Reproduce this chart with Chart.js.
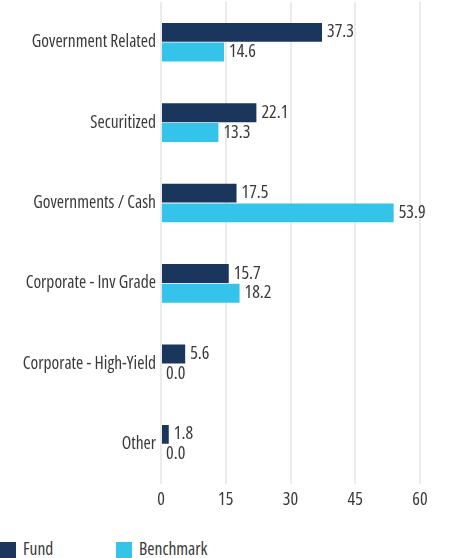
<!DOCTYPE html>
<html>
<head>
<meta charset="utf-8">
<script src="https://cdn.jsdelivr.net/npm/chart.js@4.4.1/dist/chart.umd.min.js"></script>
<style>
  html, body { margin: 0; padding: 0; background: #fff; overflow: hidden; }
  #wrap { position: absolute; left: 0; top: 0; width: 450px; height: 516px; }
  #legend { position: absolute; left: 0; top: 542px; font-family: "Open Sans", sans-serif; font-stretch: condensed; font-size: 17.5px; color: #3a3a3a; }
  .item { position: absolute; top: 0; white-space: nowrap; }
  .box { position: absolute; top: 0; width: 16px; height: 16px; }
  .txt { position: absolute; left: 23px; top: -6px; }
</style>
</head>
<body>
<div id="wrap"><canvas id="chart"></canvas></div>
<div id="legend">
  <div class="item" style="left:0"><span class="box" style="background:#1b365d"></span><span class="txt">Fund</span></div>
  <div class="item" style="left:116px"><span class="box" style="background:#35c4e9"></span><span class="txt">Benchmark</span></div>
</div>
<script>
// Data
const categories = ['Government Related', 'Securitized', 'Governments / Cash', 'Corporate - Inv Grade', 'Corporate - High-Yield', 'Other'];
const fundValues = [37.3, 22.1, 17.5, 15.7, 5.6, 1.8];
const benchmarkValues = [14.6, 13.3, 53.9, 18.2, 0.0, 0.0];
const xTicks = [0, 15, 30, 45, 60];

const fontFamily = '"Open Sans", sans-serif';
// weight string goes into the font shorthand, so it can carry the stretch too
const fontWeight = 'condensed';
const textColor = '#3a3a3a';

// draws value labels at the end of each bar
const valueLabels = {
  id: 'valueLabels',
  afterDatasetsDraw(chart) {
    const ctx = chart.ctx;
    ctx.save();
    ctx.font = `${fontWeight} 18px ${fontFamily}`;
    ctx.fillStyle = textColor;
    ctx.textBaseline = 'middle';
    ctx.textAlign = 'left';
    chart.data.datasets.forEach((ds, i) => {
      chart.getDatasetMeta(i).data.forEach((bar, j) => {
        ctx.fillText(ds.data[j].toFixed(1), bar.x + 5, bar.y);
      });
    });
    ctx.restore();
  }
};

new Chart(document.getElementById('chart'), {
  type: 'bar',
  data: {
    labels: categories,
    datasets: [
      { label: 'Fund', data: fundValues, backgroundColor: '#1b365d', barPercentage: 0.96, categoryPercentage: 0.49 },
      { label: 'Benchmark', data: benchmarkValues, backgroundColor: '#35c4e9', barPercentage: 0.96, categoryPercentage: 0.49 }
    ]
  },
  options: {
    indexAxis: 'y',
    responsive: true,
    maintainAspectRatio: false,
    animation: false,
    layout: { padding: { top: 2, right: 30, left: 0, bottom: 0 } },
    plugins: {
      legend: { display: false },
      tooltip: { enabled: false }
    },
    scales: {
      x: {
        min: 0,
        max: 60,
        afterBuildTicks(axis) { axis.ticks = xTicks.map(v => ({ value: v })); },
        grid: { color: '#ebebeb', lineWidth: 2, drawTicks: false },
        border: { display: false },
        ticks: { color: textColor, font: { family: fontFamily, weight: fontWeight, size: 18 }, padding: 5 }
      },
      y: {
        grid: { display: false, drawTicks: false },
        border: { display: false },
        afterFit(axis) { axis.width = 161; axis.paddingTop = 0; axis.paddingBottom = 0; },
        ticks: { color: textColor, font: { family: fontFamily, weight: fontWeight, size: 17.5 }, padding: 5 }
      }
    }
  },
  plugins: [valueLabels]
});
</script>
</body>
</html>
